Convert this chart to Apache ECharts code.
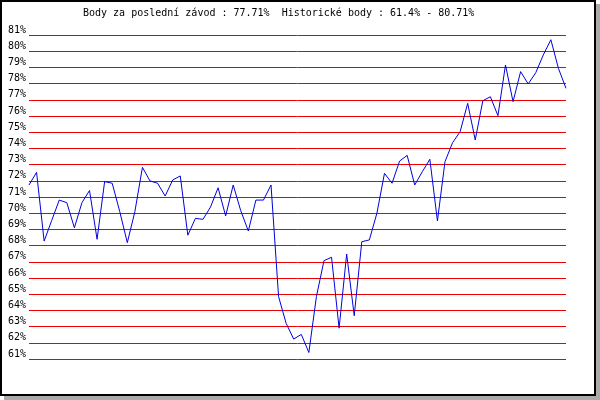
<!DOCTYPE html>
<html>
<head>
<meta charset="utf-8">
<script src="https://cdn.jsdelivr.net/npm/echarts@6/dist/echarts.min.js"></script>
<style>
  html, body { margin: 0; padding: 0; background: #fff; }
  #box { position: absolute; left: 0; top: 0; width: 596px; height: 396px; box-sizing: border-box; border: 2px solid #000; box-shadow: 4px 4px 0 #aaaaaa; background: #fff; }
  #chart { position: absolute; left: 0; top: 0; width: 600px; height: 400px; }
</style>
</head>
<body>
<div id="box"></div>
<div id="chart"></div>
<script>
const titleText = 'Body za poslední závod : 77.71%  Historické body : 61.4% - 80.71%';
const yTicks = { min: 61, max: 81, step: 1 };
const races = Array.from({ length: 72 }, (_, i) => String(i + 1));
const points = [
  71.74, 72.52, 68.28, 69.55, 70.81, 70.65, 69.10, 70.65, 71.40, 68.39,
  71.95, 71.85, 70.10, 68.18, 70.10, 72.83, 71.99, 71.85, 71.06, 72.05,
  72.30, 68.64, 69.68, 69.62, 70.38, 71.57, 69.83, 71.74, 70.15, 68.90,
  70.81, 70.81, 71.74, 64.85, 63.20, 62.23, 62.52, 61.40, 64.85, 67.07,
  67.28, 62.90, 67.48, 63.67, 68.24, 68.35, 70.00, 72.46, 71.85, 73.22,
  73.57, 71.74, 72.56, 73.33, 69.52, 73.18, 74.35, 75.03, 76.78, 74.52,
  76.94, 77.19, 76.02, 79.15, 76.88, 78.74, 77.98, 78.67, 79.77, 80.71,
  78.94, 77.71
];

const font = '"DejaVu Sans Mono", "Liberation Mono", monospace';
const chart = echarts.init(document.getElementById('chart'), null, { renderer: 'canvas' });
chart.setOption({
  animation: false,
  title: {
    text: titleText,
    left: 83,
    top: 8,
    padding: 0,
    textStyle: { fontFamily: font, fontSize: 10, fontWeight: 'normal', color: '#000' }
  },
  grid: { left: 29, right: 34, top: 35, bottom: 41, containLabel: false },
  xAxis: {
    type: 'category',
    data: races,
    boundaryGap: false,
    show: false
  },
  yAxis: {
    type: 'value',
    min: yTicks.min,
    max: yTicks.max,
    interval: yTicks.step,
    axisLine: { show: false },
    axisTick: { show: false },
    splitLine: { show: true, lineStyle: { color: '#ee0000', width: 1 } },
    axisLabel: {
      formatter: '{value}%',
      margin: 3,
      verticalAlign: 'bottom',
      fontFamily: font,
      fontSize: 10,
      color: '#000'
    }
  },
  series: [{
    type: 'line',
    data: points,
    showSymbol: false,
    lineStyle: { color: '#0000dd', width: 1 },
    itemStyle: { color: '#0000dd' }
  }]
});
</script>
</body>
</html>
